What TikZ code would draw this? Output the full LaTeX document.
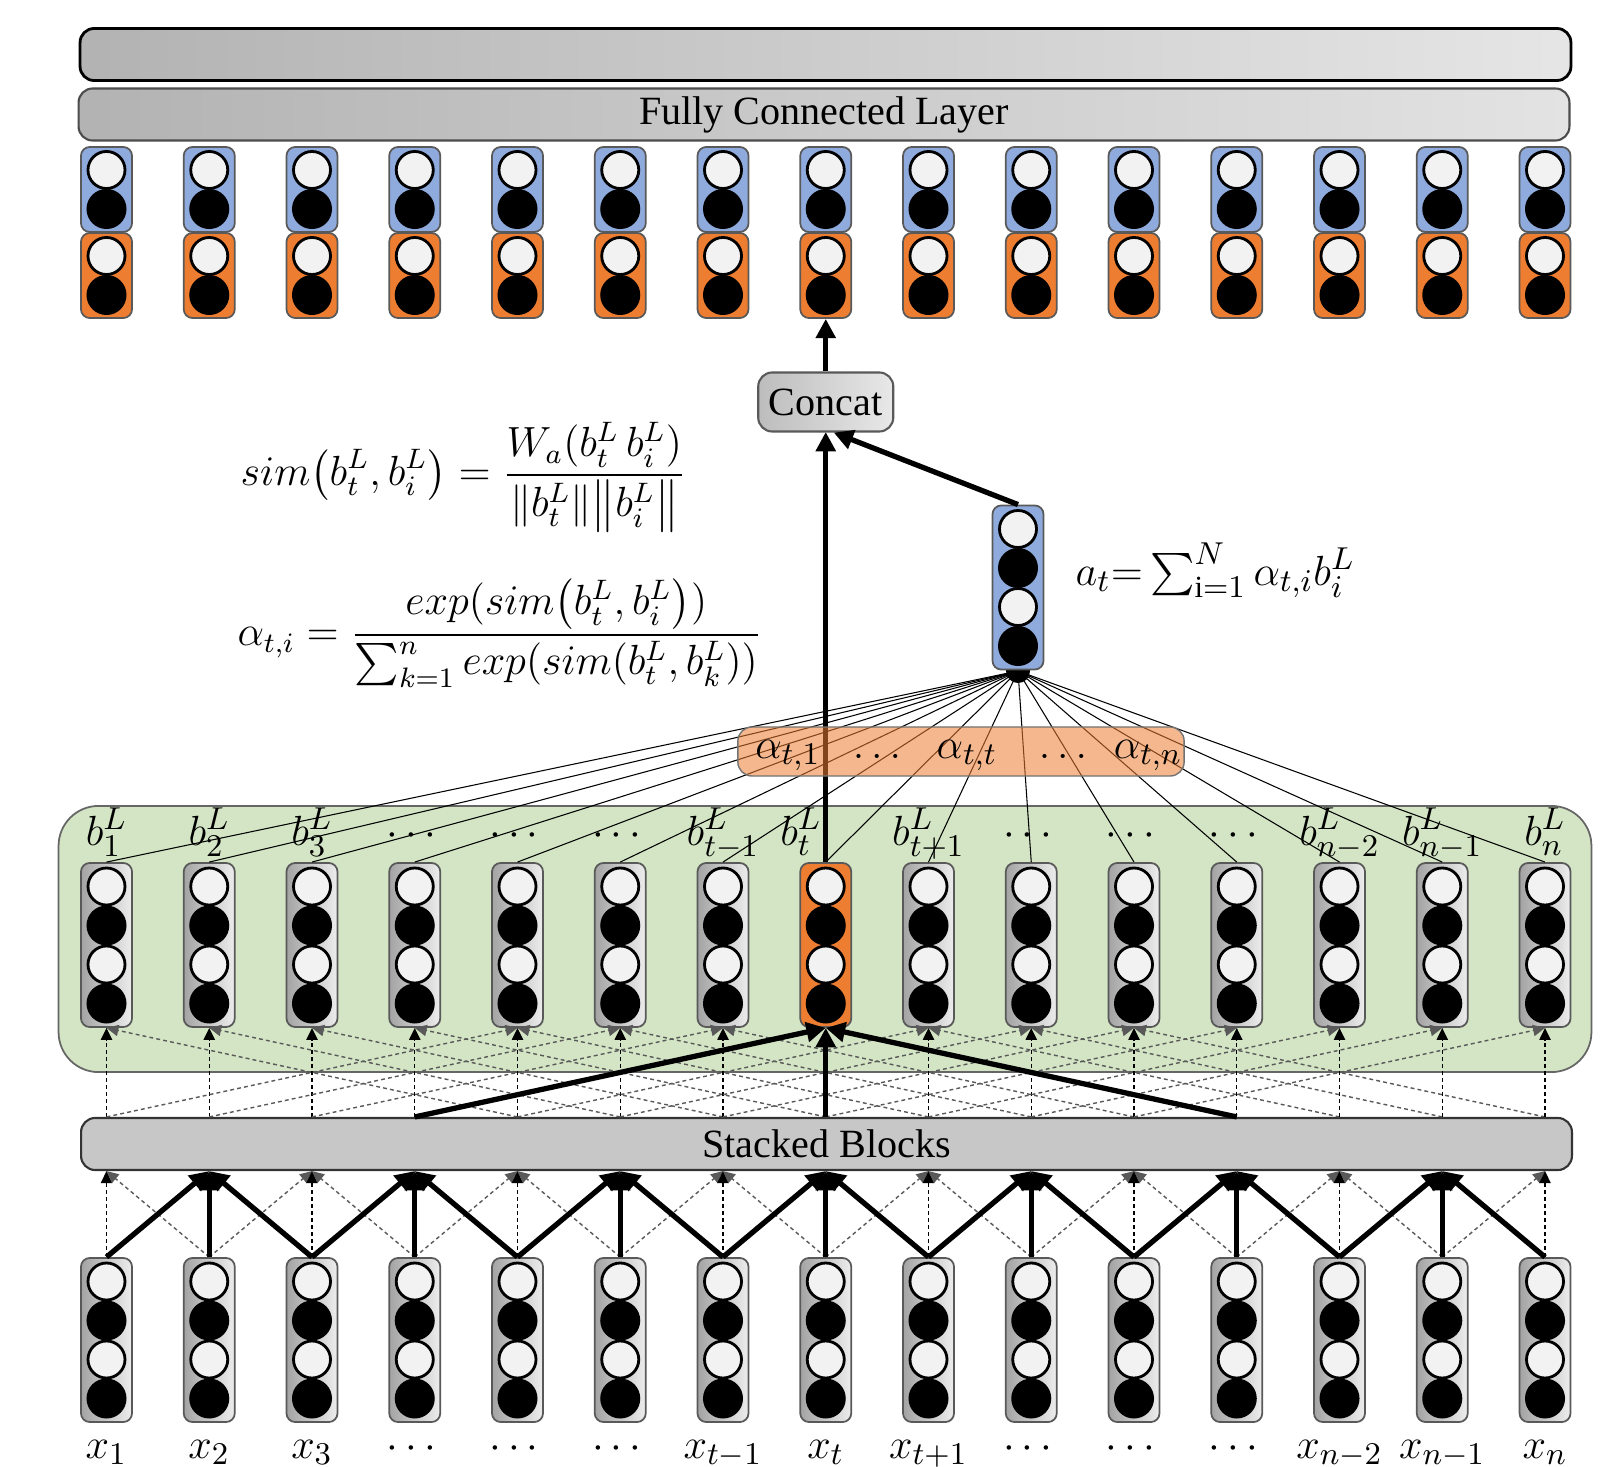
\documentclass[tikz,border=0pt]{standalone}
\usepackage{amsmath}
\usepackage{fontspec}
\setmainfont{Liberation Serif}
\usepackage{tikz}
\usetikzlibrary{arrows.meta,positioning,calc}
\definecolor{vecblue}{HTML}{8FAADC}
\definecolor{vecorange}{HTML}{ED7D31}
\definecolor{layergreen}{HTML}{D3E5C4}
\definecolor{neulight}{HTML}{F2F2F2}
\tikzset{
  colbox/.style={rectangle,rounded corners=2.5pt,draw=black!65,line width=0.5pt,
    minimum width=0.51cm,inner sep=0pt},
  grbox/.style={colbox,left color=black!36,right color=black!7},
  vtall/.style={minimum height=1.64cm},
  vshort/.style={minimum height=0.85cm},
  neuw/.style={draw=black,line width=0.8pt,fill=neulight},
  neub/.style={fill=black},
  bar/.style={rectangle,rounded corners=4pt,draw=black!70,line width=0.6pt,
    minimum width=14.9cm,minimum height=0.52cm,inner sep=0pt,
    font=\fontsize{11.4}{13}\selectfont},
  dsh/.style={dash pattern=on 1.1pt off 0.9pt,line width=0.4pt,
    -{Triangle[length=3.4pt,width=3.2pt]}},
  thk/.style={line width=1.5pt,-{Triangle[length=5.5pt,width=5.5pt]}},
  attl/.style={line width=0.3pt},
  lbl/.style={anchor=base,inner sep=0pt,font=\fontsize{12.5}{15}\selectfont},
  frm/.style={inner sep=0pt,font=\fontsize{12}{14}\selectfont},
}
% neurons of one column
\newcommand{\quadcol}[2]{%
  \path[neuw] (#1,#2-58.5) circle[radius=0.185cm];
  \path[neub] (#1,#2-19.5) circle[radius=0.2cm];
  \path[neuw] (#1,#2+19.5) circle[radius=0.185cm];
  \path[neub] (#1,#2+58.5) circle[radius=0.2cm];}
\newcommand{\duocol}[2]{%
  \path[neuw] (#1,#2-19.5) circle[radius=0.185cm];
  \path[neub] (#1,#2+19.5) circle[radius=0.2cm];}

\begin{document}
\begin{tikzpicture}[x=0.01cm,y=-0.01cm]
  \useasboundingbox (0,0) rectangle (1615,1467);
  % layer L background
  \node[rectangle,rounded corners=0.4cm,draw=black!60,line width=0.5pt,fill=layergreen,
    minimum width=15.32cm,minimum height=2.66cm] (blayer) at (825,939) {};
  % bars
  \node[bar,draw=black,line width=0.8pt,left color=black!30,right color=black!10] (out) at (825.5,54.5) {};
  \node[bar,left color=black!30,right color=black!11] (fc) at (824,114.5) {Fully Connected Layer};
  \node[bar,fill=black!22,draw=black!80] (blk) at (826.5,1144) {Stacked Blocks};
  % columns
  \foreach \i in {0,...,14}{
    \pgfmathsetmacro{\cx}{106.5+102.75*\i}
    \node[colbox,vshort,fill=vecblue] (hb\i) at (\cx,189.5) {};
    \node[colbox,vshort,fill=vecorange] (ho\i) at (\cx,275.5) {};
    \duocol{\cx}{189.5}
    \duocol{\cx}{275.5}
    \node[grbox,vtall] (in\i) at (\cx,1340) {};
    \quadcol{\cx}{1340}
    \ifnum\i=7
      \node[colbox,vtall,fill=vecorange] (b\i) at (\cx,945) {};
    \else
      \node[grbox,vtall] (b\i) at (\cx,945) {};
    \fi
    \quadcol{\cx}{945}
  }
  % inputs -> stacked blocks
  \foreach \i in {0,...,14}{
    \foreach \d in {-1,0,1}{
      \pgfmathtruncatemacro{\j}{\i+\d}
      \ifnum\j>-1\relax\ifnum\j<15\relax
        \ifodd\j\relax\else
          \ifnum\d=0\relax
            \draw[dsh] (in\i.north) -- (in\j.north |- blk.south);
          \else
            \draw[dsh,black!65] (in\i.north) -- (in\j.north |- blk.south);
          \fi
        \fi
      \fi\fi
    }
  }
  \foreach \i in {0,...,14}{
    \foreach \d in {-1,0,1}{
      \pgfmathtruncatemacro{\j}{\i+\d}
      \ifnum\j>-1\relax\ifnum\j<15\relax
        \ifodd\j\relax
          \draw[thk] (in\i.north) -- (in\j.north |- blk.south);
        \fi
      \fi\fi
    }
  }
  % stacked blocks -> b^L (dilation 4)
  \foreach \i in {0,...,14}{
    \foreach \d in {-4,0,4}{
      \pgfmathtruncatemacro{\j}{\i+\d}
      \ifnum\j>-1\relax\ifnum\j<15\relax\ifnum\i=7\relax\else
        \ifnum\d=0\relax
          \draw[dsh] (b\j.south |- blk.north) -- (b\i.south);
        \else
          \draw[dsh,black!65] (b\j.south |- blk.north) -- (b\i.south);
        \fi
      \fi\fi\fi
    }
  }
  \foreach \j in {3,7,11} \draw[thk] (b\j.south |- blk.north) -- (b7.south);
  % attention
  \node[circle,fill=black,minimum size=0.24cm,inner sep=0pt] (attdot) at (1018,671) {};
  \foreach \i in {0,...,14} \draw[attl] (attdot.center) -- (b\i.north);
  \draw[thk] (b7.north) -- (825.75,432) coordinate (cin);
  \node[rectangle,rounded corners=4pt,draw=black!55,fill=vecorange,fill opacity=0.55,
    minimum width=4.46cm,minimum height=0.49cm] (abar) at (961,751.5) {};
  \node[lbl] (al1) at (788,758) {$\alpha_{t,1}$};
  \node[lbl] (dt1) at (877,758) {$\ldots$};
  \node[lbl] (alt) at (967,758) {$\alpha_{t,t}$};
  \node[lbl] (dt2) at (1063,758) {$\ldots$};
  \node[lbl] (aln) at (1148,758) {$\alpha_{t,n}$};
  \node[colbox,vtall,fill=vecblue] (att) at (1018,587.5) {};
  \quadcol{1018}{587.5}
  % concat
  \node[rectangle,rounded corners=4pt,draw=black!65,line width=0.6pt,left color=black!26,
    right color=black!9,minimum width=1.35cm,minimum height=0.59cm,inner sep=0pt,
    font=\fontsize{11.4}{13}\selectfont] (concat) at (825.75,402) {Concat};
  \draw[thk] (att.north) -- ([xshift=0.08cm]concat.south);
  \draw[thk] (concat.north) -- (ho7.south);
  % labels
  \foreach \i/\t in {0/b^L_1,1/b^L_2,2/b^L_3,3/\cdots,4/\cdots,5/\cdots,6/b^L_{t-1},
      8/b^L_{t+1},9/\cdots,10/\cdots,11/\cdots,12/b^L_{n-2},13/b^L_{n-1},14/b^L_n}
    \node[lbl] (lb\i) at (b\i.north |- 0,845) {$\t$};
  \node[lbl] (lb7) at (801,845) {$b^L_t$};
  \foreach \i/\t in {0/x_1,1/x_2,2/x_3,3/\cdots,4/\cdots,5/\cdots,6/x_{t-1},7/x_t,
      8/x_{t+1},9/\cdots,10/\cdots,11/\cdots,12/x_{n-2},13/x_{n-1},14/x_n}
    \node[lbl] (lx\i) at (in\i.south |- 0,1458) {$\t$};
  % formulas
  \node[frm,anchor=west] (simf) at (240,477)
    {$\displaystyle sim\bigl(b_t^L,b_i^L\bigr)=\frac{W_a(b_t^L\,b_i^L)}{\|b_t^L\|\bigl\|b_i^L\bigr\|}$};
  \node[frm,anchor=west] (alphf) at (237,633)
    {$\displaystyle \alpha_{t,i}=\frac{exp(sim\bigl(b_t^L,b_i^L\bigr))}{\sum_{k=1}^{n}exp(sim(b_t^L,b_k^L))}$};
  \node[lbl,font=\fontsize{12.5}{15}\selectfont,anchor=base west] (atf) at (1075,585)
    {$a_t{=}\sum\nolimits_{\mathrm{i}=1}^{N}\alpha_{t,i}b_i^L$};
\end{tikzpicture}
\end{document}
